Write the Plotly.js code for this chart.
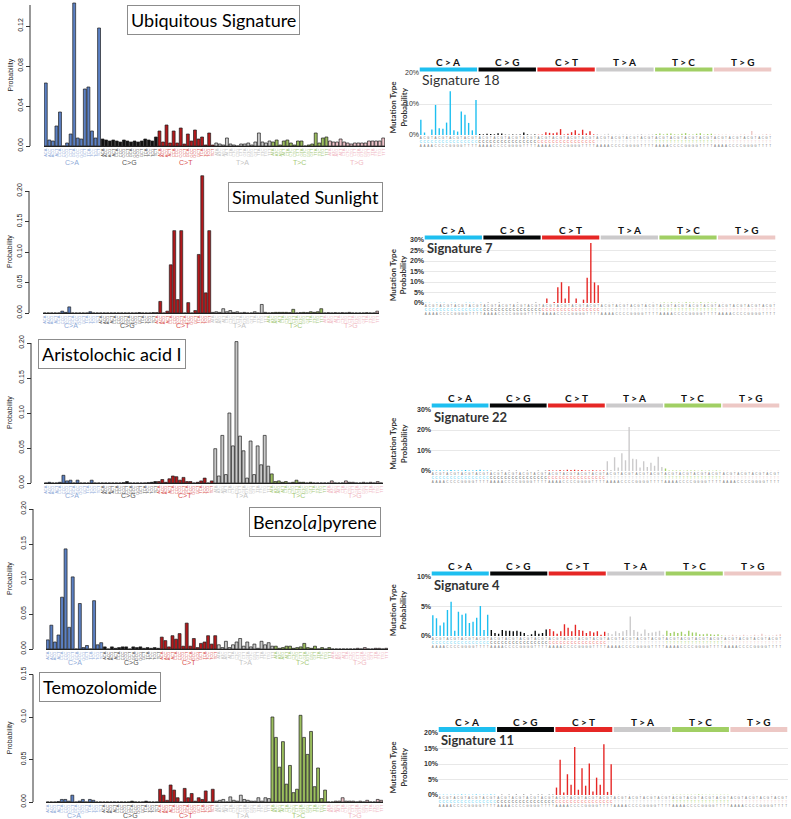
<!DOCTYPE html>
<html>
<head>
<meta charset="utf-8">
<script src="https://cdn.plot.ly/plotly-3.0.1.min.js"></script>
<style>
  html, body { margin: 0; padding: 0; background: #fff; }
  #chart { width: 791px; height: 819px; }
</style>
</head>
<body>
<div id="chart"></div>
<script>
var W = 791, H = 819;

// mutation classes, 16 trinucleotide contexts each
var mutTypes = ['C>A', 'C>G', 'C>T', 'T>A', 'T>C', 'T>G'];
var bases = ['A', 'C', 'G', 'T'];

// left column: experimental signatures (probability)
var ubiquitous = [
  0.063, 0.006, 0.005, 0.020, 0.034, 0.000, 0.003, 0.012, 0.143, 0.008, 0.007, 0.057, 0.059, 0.015, 0.008, 0.118,
  0.007, 0.006, 0.005, 0.006, 0.005, 0.004, 0.006, 0.005, 0.004, 0.005, 0.004, 0.005, 0.007, 0.006, 0.005, 0.009,
  0.015, 0.004, 0.021, 0.003, 0.015, 0.003, 0.018, 0.002, 0.012, 0.005, 0.016, 0.007, 0.009, 0.001, 0.013, 0.001,
  0.003, 0.002, 0.001, 0.008, 0.002, 0.001, 0.000, 0.002, 0.002, 0.003, 0.001, 0.004, 0.013, 0.004, 0.003, 0.005,
  0.004, 0.006, 0.001, 0.005, 0.006, 0.003, 0.001, 0.005, 0.005, 0.000, 0.001, 0.002, 0.013, 0.003, 0.008, 0.009,
  0.005, 0.004, 0.004, 0.007, 0.004, 0.003, 0.002, 0.003, 0.003, 0.003, 0.003, 0.005, 0.005, 0.005, 0.005, 0.008
];
var sunlight = [
  0, 0, 0, 0, 0, 0.003, 0.001, 0.010, 0, 0, 0, 0, 0, 0.002, 0, 0,
  0, 0, 0, 0, 0, 0, 0, 0, 0, 0, 0, 0.0005, 0, 0, 0, 0.0005,
  0.0005, 0.019, 0, 0.003, 0.079, 0.135, 0.022, 0.135, 0, 0.017, 0, 0.004, 0.096, 0.225, 0.033, 0.135,
  0.001, 0.002, 0.001, 0.007, 0.002, 0.004, 0.001, 0.002, 0, 0.001, 0, 0, 0.002, 0, 0.014, 0.001,
  0, 0.0005, 0.001, 0.001, 0.001, 0.001, 0.0005, 0.006, 0, 0.0005, 0.001, 0.0005, 0.002, 0.001, 0.002, 0.007,
  0, 0.0005, 0, 0.0005, 0, 0.0005, 0, 0.001, 0, 0, 0, 0, 0.0005, 0, 0, 0.003
];
var aristolochic = [
  0, 0.001, 0, 0, 0.001, 0.011, 0.003, 0.004, 0, 0.004, 0, 0, 0, 0.004, 0, 0,
  0, 0, 0, 0, 0, 0, 0.0005, 0.002, 0, 0, 0, 0, 0, 0.0005, 0.001, 0.002,
  0.002, 0.005, 0.001, 0.006, 0.010, 0.009, 0.004, 0.008, 0.002, 0.002, 0, 0.001, 0.003, 0.007, 0, 0.003,
  0.049, 0.010, 0.068, 0.012, 0.100, 0.053, 0.202, 0.067, 0.046, 0.007, 0.060, 0.012, 0.053, 0.026, 0.068, 0.024,
  0.013, 0.002, 0.003, 0.001, 0.002, 0, 0.001, 0.004, 0.001, 0.001, 0, 0.001, 0, 0, 0, 0,
  0, 0.003, 0, 0, 0, 0.003, 0.001, 0.001, 0, 0, 0.001, 0, 0.001, 0, 0.002, 0
];
var benzopyrene = [
  0.013, 0.034, 0.010, 0.020, 0.074, 0.143, 0.031, 0.103, 0, 0.065, 0.002, 0.005, 0, 0.069, 0.006, 0.009,
  0.003, 0, 0.003, 0.001, 0.002, 0.003, 0.003, 0, 0.003, 0.002, 0.003, 0.001, 0.002, 0.001, 0.002, 0.001,
  0.017, 0.012, 0.003, 0.019, 0.014, 0.022, 0.004, 0.037, 0.004, 0.015, 0.002, 0.008, 0.010, 0.019, 0.007, 0.019,
  0.006, 0.002, 0.011, 0.002, 0.006, 0.010, 0.015, 0.004, 0.010, 0.003, 0.007, 0.001, 0.011, 0.006, 0.009, 0.004,
  0.004, 0.001, 0.002, 0.004, 0.004, 0.001, 0.002, 0.003, 0.008, 0.002, 0.001, 0.004, 0, 0.002, 0, 0.002,
  0, 0, 0, 0, 0, 0, 0, 0.001, 0, 0.002, 0, 0, 0.001, 0.001, 0, 0.001
];
var temozolomide = [
  0, 0, 0, 0.0005, 0.003, 0.003, 0.001, 0.008, 0, 0.001, 0.003, 0, 0.003, 0.002, 0, 0,
  0, 0, 0, 0, 0, 0, 0, 0, 0.001, 0, 0, 0, 0.001, 0, 0, 0,
  0.015, 0.008, 0.002, 0.020, 0.014, 0.005, 0, 0.016, 0.005, 0.010, 0.001, 0.005, 0.003, 0.013, 0, 0.015,
  0.001, 0.002, 0.003, 0, 0.006, 0.002, 0.001, 0.008, 0.003, 0.002, 0.001, 0.001, 0.005, 0.001, 0.005, 0.004,
  0.100, 0.076, 0.041, 0.071, 0.021, 0.043, 0.011, 0.015, 0.102, 0.076, 0.056, 0.083, 0.018, 0.040, 0.004, 0.014,
  0, 0, 0.001, 0.001, 0.005, 0.001, 0.001, 0.001, 0, 0.001, 0, 0.002, 0, 0, 0.003, 0.002
];

// right column: COSMIC signatures (percent)
var sig18 = [
  4.9, 0.8, 0, 1.8, 9.7, 2.2, 2.0, 4.0, 14.1, 1.5, 1.1, 7.6, 6.5, 3.9, 1.5, 11.3,
  0.3, 0.2, 0.4, 0.3, 0.2, 0.6, 0.5, 0.1, 0.1, 0.2, 0.1, 0.2, 0.8, 0.2, 0.1, 0.2,
  0.1, 0.2, 0.9, 0.7, 0.6, 0.8, 1.9, 0.2, 0.4, 0.9, 1.5, 0.4, 1.7, 0.5, 1.2, 0.2,
  0.3, 0.1, 0.2, 0.4, 0.1, 0.1, 0.1, 0.2, 0.2, 0.1, 0.1, 0.2, 0.3, 0.1, 0.2, 0.2,
  0.3, 0.5, 0.2, 0.4, 0.5, 0.2, 0.2, 0.4, 0.6, 0.2, 0.2, 0.4, 0.6, 0.2, 0.3, 0.4,
  0.2, 0.2, 0.1, 0.2, 0.1, 0.1, 0.1, 0.2, 0.2, 0.1, 1.3, 0.1, 0.1, 0.2, 0.3, 0.2
];
var sig7 = [
  0.1, 0.1, 0, 0.1, 0.1, 0.1, 0, 0.1, 0.1, 0, 0, 0.1, 0.1, 0.1, 0, 0.1,
  0, 0.1, 0, 0, 0.1, 0, 0, 0, 0, 0.1, 0, 0, 0, 0, 0.1, 0,
  0, 2.1, 0, 0.5, 7.5, 9.9, 2.2, 8.0, 0, 2.1, 0, 1.6, 12.0, 28.6, 9.8, 8.5,
  0.1, 0, 0.1, 0.1, 0, 0.1, 0, 0.1, 0, 0, 0.1, 0, 0.1, 0, 0.2, 0,
  0.1, 0.2, 0.1, 0.3, 0.1, 0.2, 0.1, 0.3, 0.2, 0.2, 0.1, 0.4, 0.1, 0.2, 0.1, 0.2,
  0, 0.1, 0, 0, 0, 0.1, 0, 0, 0, 0.1, 0, 0, 0, 0, 0, 0.1
];
var sig22 = [
  0.3, 0.2, 0.4, 0.3, 0.2, 0.5, 0.3, 0.2, 0.3, 0.5, 0.2, 0.3, 0.4, 0.6, 0.2, 0.3,
  0.1, 0, 0.1, 0.1, 0, 0.1, 0, 0.1, 0, 0, 0.1, 0, 0, 0.1, 0, 0.1,
  0.4, 0.2, 0.3, 0.5, 0.2, 0.6, 0.5, 0.6, 0.4, 0.5, 0.3, 0.2, 0.4, 0.3, 0.2, 0.3,
  4.8, 0.5, 6.7, 1.7, 8.7, 5.3, 21.5, 6.0, 5.7, 1.7, 4.8, 2.0, 4.0, 2.5, 7.0, 2.0,
  1.2, 0.2, 0.3, 0.2, 0.2, 0.1, 0.2, 0.3, 0.2, 0.1, 0.2, 0.1, 0.3, 0.1, 0.2, 0.1,
  0.1, 0.1, 0, 0.1, 0, 0.1, 0.1, 0, 0.1, 0, 0.1, 0, 0.1, 0.1, 0, 0.1
];
var sig4 = [
  3.5, 3.0, 1.8, 2.3, 4.4, 5.8, 0.9, 4.1, 3.6, 3.8, 2.2, 2.4, 3.1, 5.1, 1.0, 3.6,
  1.0, 0.5, 0.4, 1.0, 0.9, 0.9, 0.8, 0.9, 0.7, 0.5, 0.1, 0.3, 0.9, 0.4, 0.5, 1.1,
  1.2, 0.8, 0.4, 0.8, 2.0, 1.4, 0.8, 1.9, 1.0, 0.9, 0.5, 0.8, 0.6, 0.8, 0.2, 0.7,
  0.5, 0.3, 0.8, 0.5, 0.8, 1.0, 3.3, 1.0, 0.7, 0.4, 1.1, 0.5, 0.6, 0.7, 0.9, 0.2,
  0.9, 0.5, 0.7, 0.5, 0.7, 0.3, 0.9, 0.6, 0.6, 0.3, 0.3, 0.4, 0.3, 0.2, 0.3, 0.1,
  0.1, 0.1, 0.2, 0.1, 0.1, 0.2, 0.1, 0.1, 0.2, 0.1, 0.4, 0.1, 0.1, 0.1, 0.2, 0.3
];
var sig11 = [
  0.1, 0.1, 0.1, 0.1, 0.1, 0.1, 0.2, 0.1, 0.1, 0.1, 0.2, 0.1, 0.1, 0.1, 0.2, 0.1,
  0, 0.1, 0, 0.1, 0, 0.1, 0, 0.1, 0, 0.1, 0, 0.1, 0.1, 0, 0.1, 0.1,
  2.4, 11.4, 0.8, 6.7, 3.3, 15.5, 1.7, 8.6, 3.0, 10.2, 1.1, 5.6, 3.3, 16.4, 1.0, 9.9,
  0, 0.1, 0, 0, 0.1, 0, 0, 0.1, 0, 0, 0.1, 0, 0, 0.1, 0, 0,
  0.1, 0.1, 0.1, 0.1, 0.1, 0.1, 0.1, 0.2, 0.1, 0.1, 0.1, 0.1, 0.1, 0.1, 0.1, 0.1,
  0, 0, 0.1, 0, 0, 0, 0.1, 0, 0, 0, 0, 0.1, 0, 0, 0, 0
];

// colours
var leftColors = ['#5b80c4', '#111111', '#b3191c', '#c9c9c9', '#9cbf5e', '#efc3c9'];
var leftLabelColors = ['#8eaad8', '#555555', '#d9534f', '#c4c4c4', '#a6c97a', '#f0b8c2'];
var rightColors = ['#1ebff0', '#050708', '#e62725', '#cbcacb', '#a1cf64', '#edc8c5'];

// build contexts
var contexts = [], groupOf = [];
mutTypes.forEach(function(m, g) {
  bases.forEach(function(b5) {
    bases.forEach(function(b3) {
      contexts.push(b5 + m[0] + b3);
      groupOf.push(g);
    });
  });
});
var idx = contexts.map(function(c, i) { return i; });

function fx(px) { return px / W; }
function fy(py) { return 1 - py / H; }
function axKey(p, n) { return p + 'axis' + (n === 1 ? '' : n); }
function axRef(p, n) { return p + (n === 1 ? '' : n); }

// panel placement (pixels)
var leftPanels = [
  {data: ubiquitous, title: 'Ubiquitous Signature', x0: 44, x1: 385, zero: 146, scale: 1000, top: 0.144,
   ticks: [0, 0.04, 0.08, 0.12], lineTop: 0.141, axisX: 30, box: [213, 20], groupY: 163},
  {data: sunlight, title: 'Simulated Sunlight', x0: 43, x1: 379, zero: 313, scale: 610, top: 0.23,
   ticks: [0, 0.05, 0.1, 0.15, 0.2], lineTop: 0.2, axisX: 29, box: [305, 197], groupY: 326},
  {data: aristolochic, title: 'Aristolochic acid I', x0: 44, x1: 383, zero: 483, scale: 700, top: 0.205,
   ticks: [0, 0.05, 0.1, 0.15, 0.2], lineTop: 0.2, axisX: 31, box: [112, 354], groupY: 496},
  {data: benzopyrene, title: 'Benzo[<i>a</i>]pyrene', x0: 46, x1: 388, zero: 649, scale: 700, top: 0.202,
   ticks: [0, 0.05, 0.1, 0.15, 0.2], lineTop: 0.2, axisX: 33, box: [315, 522], groupY: 662},
  {data: temozolomide, title: 'Temozolomide', x0: 46, x1: 383, zero: 802, scale: 850, top: 0.152,
   ticks: [0, 0.05, 0.1, 0.15], lineTop: 0.15, axisX: 33, box: [100, 687], groupY: 815}
];
var rightPanels = [
  {data: sig18, name: 'Signature 18', bold: false, x0: 419, x1: 772, zero: 135, scale: 3.1, top: 20.3,
   ticks: [0, 10, 20], band: [67.5, 71.5], labelY: 62, nameY: 80},
  {data: sig7, name: 'Signature 7', bold: true, x0: 424, x1: 776, zero: 303, scale: 2.1, top: 30.3,
   ticks: [0, 5, 10, 15, 20, 25, 30], band: [235.5, 239.5], labelY: 230, nameY: 248},
  {data: sig22, name: 'Signature 22', bold: true, x0: 431, x1: 780, zero: 471, scale: 2.05, top: 30.4,
   ticks: [0, 10, 20, 30], band: [403.5, 407.5], labelY: 398, nameY: 417},
  {data: sig4, name: 'Signature 4', bold: true, x0: 431, x1: 782, zero: 636, scale: 5.9, top: 10.1,
   ticks: [0, 5, 10], band: [571.5, 575.5], labelY: 566, nameY: 585},
  {data: sig11, name: 'Signature 11', bold: true, x0: 438, x1: 788, zero: 795, scale: 3.1, top: 20.3,
   ticks: [0, 5, 10, 15, 20], band: [727, 732], labelY: 722, nameY: 740}
];

var traces = [];
var layout = {
  width: W, height: H,
  margin: {l: 0, r: 0, t: 0, b: 0},
  paper_bgcolor: '#fff', plot_bgcolor: '#fff',
  showlegend: false,
  font: {family: 'Liberation Sans, Arial, sans-serif', color: '#222'},
  annotations: [], shapes: []
};

// every annotation is centred on its point unless told otherwise
function note(a) {
  a.showarrow = false;
  if (!a.xanchor) a.xanchor = 'center';
  if (!a.yanchor) a.yanchor = 'middle';
  layout.annotations.push(a);
}

var leftTickText = contexts.map(function(c, i) {
  return '<span style="color:' + leftLabelColors[groupOf[i]] + '">' + c + '</span>';
});
var rightTickText = contexts.map(function(c, i) {
  return c[2] + '<br><span style="color:' + rightColors[groupOf[i]] + '">' + c[1] + '</span><br>' + c[0];
});

leftPanels.forEach(function(p, k) {
  var n = k + 1;
  traces.push({
    type: 'bar', x: idx, y: p.data,
    xaxis: axRef('x', n), yaxis: axRef('y', n),
    width: 0.82,
    marker: {color: groupOf.map(function(g) { return leftColors[g]; }), line: {color: '#1e1e1e', width: 0.7}},
    hoverinfo: 'skip'
  });
  layout[axKey('x', n)] = {
    domain: [fx(p.x0), fx(p.x1)], anchor: axRef('y', n),
    range: [-0.5, 95.5], fixedrange: true,
    tickvals: idx, ticktext: leftTickText, tickangle: -90,
    tickfont: {size: 4, color: '#999'}, ticks: '',
    showline: true, linecolor: '#222', linewidth: 1,
    showgrid: false, zeroline: false
  };
  layout[axKey('y', n)] = {
    domain: [fy(p.zero), fy(p.zero - p.top * p.scale)],
    anchor: 'free', position: fx(p.axisX),
    range: [0, p.top], fixedrange: true,
    tickvals: p.ticks, tickformat: '.2f', tickangle: -90,
    tickfont: {size: 7, color: '#222'},
    ticks: 'outside', ticklen: 4, tickwidth: 1, tickcolor: '#333',
    showline: false, showgrid: false, zeroline: false
  };
  layout.shapes.push({
    type: 'line', xref: 'paper', yref: axRef('y', n),
    x0: fx(p.axisX), x1: fx(p.axisX), y0: 0, y1: p.lineTop,
    line: {color: '#333', width: 1}
  });
  note({
    text: 'Probability', textangle: -90,
    xref: 'paper', yref: 'paper', x: fx(10), y: fy(p.zero - p.lineTop * p.scale / 2),
    font: {size: 7, color: '#222'}
  });
  mutTypes.forEach(function(m, g) {
    note({
      text: m.replace('>', '&gt;'),
      xref: axRef('x', n), yref: 'paper', x: g * 16 + 7.5, y: fy(p.groupY),
      font: {size: 7, color: leftLabelColors[g]}
    });
  });
  note({
    text: p.title,
    xref: 'paper', yref: 'paper', x: fx(p.box[0]), y: fy(p.box[1]),
    bgcolor: '#fff', bordercolor: '#8c8c8c', borderwidth: 1, borderpad: 3,
    font: {family: 'Lato, sans-serif', size: 18, color: '#000'}
  });
});

rightPanels.forEach(function(p, k) {
  var n = k + 6;
  var xr = axRef('x', n), yr = axRef('y', n);
  traces.push({
    type: 'bar', x: idx, y: p.data, xaxis: xr, yaxis: yr,
    width: 0.38,
    marker: {color: groupOf.map(function(g) { return rightColors[g]; }), line: {width: 0}},
    hoverinfo: 'skip'
  });
  layout[axKey('x', n)] = {
    domain: [fx(p.x0), fx(p.x1)], anchor: yr,
    range: [-0.5, 95.5], fixedrange: true,
    tickvals: idx, ticktext: rightTickText, tickangle: 0,
    tickfont: {size: 3, color: '#777'}, ticks: '',
    showline: false, showgrid: false, zeroline: false
  };
  layout[axKey('y', n)] = {
    domain: [fy(p.zero), fy(p.zero - p.top * p.scale)],
    anchor: 'free', position: fx(p.x0),
    range: [0, p.top], fixedrange: true,
    tickvals: p.ticks,
    ticktext: p.ticks.map(function(t) { return p.bold ? '<b>' + t + '%</b>' : t + '%'; }),
    tickfont: {size: 7, color: '#333'}, ticks: '',
    showline: false, showgrid: true, gridcolor: '#e8e8e8', gridwidth: 1, zeroline: false
  };
  // class header bars
  mutTypes.forEach(function(m, g) {
    layout.shapes.push({
      type: 'rect', xref: xr, yref: 'paper',
      x0: g * 16 - 0.5 + 0.2, x1: g * 16 + 15.5 - 0.2,
      y0: fy(p.band[1]), y1: fy(p.band[0]),
      fillcolor: rightColors[g], line: {width: 0}
    });
    note({
      text: '<b>' + m.replace('>', ' &gt; ') + '</b>',
      xref: xr, yref: 'paper', x: g * 16 + 7.5, y: fy(p.labelY),
      font: {family: 'Lato, sans-serif', size: 10, color: '#111'}
    });
  });
  note({
    text: p.bold ? '<b>' + p.name + '</b>' : p.name,
    xref: 'paper', yref: 'paper', xanchor: 'left',
    x: fx(p.x0 + 1), y: fy(p.nameY),
    font: {family: 'Lato, sans-serif', size: p.bold ? 13 : 14, color: '#333'}
  });
  note({
    text: '<b>Mutation Type<br>Probability</b>', textangle: -90,
    xref: 'paper', yref: 'paper', x: fx(398),
    y: fy(p.zero - p.top * p.scale / 2 + 3),
    font: {family: 'Lato, sans-serif', size: 8, color: '#333'}
  });
});

Plotly.newPlot('chart', traces, layout, {staticPlot: true, displayModeBar: false});
</script>
</body>
</html>
